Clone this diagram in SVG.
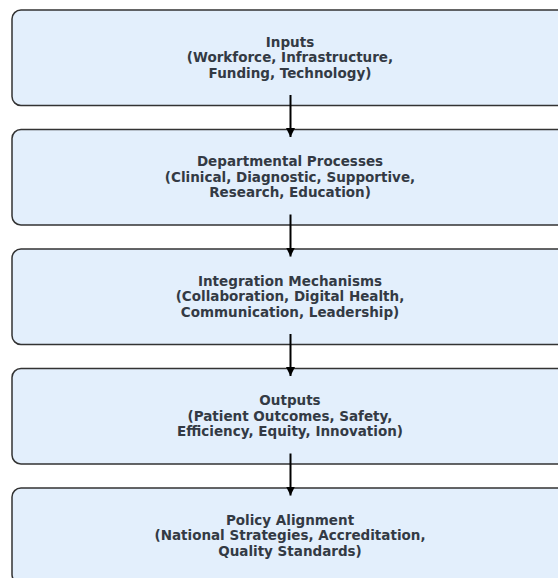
<svg xmlns="http://www.w3.org/2000/svg" width="558" height="578" viewBox="0 0 558 578">
<defs>
<style>
.box{fill:#e3effc;stroke:#333;stroke-width:1.5}
.t{font-family:"DejaVu Sans",sans-serif;font-weight:bold;font-size:13.5px;fill:#333a44;text-anchor:middle}
.c{stroke:#000;stroke-width:2;fill:none}
</style>
<marker id="ah" viewBox="0 0 10 10" refX="10" refY="5" markerWidth="4.5" markerHeight="4.5" orient="auto" markerUnits="strokeWidth"><path d="M0,0 L10,5 L0,10 z" fill="#000"/></marker>
</defs>
<rect width="558" height="578" fill="#fff"/>
<g id="n1"><rect class="box" x="12" y="10" width="558" height="95.5" rx="9"/>
<text class="t" x="290" y="46.5">Inputs</text><text class="t" x="290" y="62">(Workforce, Infrastructure,</text><text class="t" x="290" y="77.5">Funding, Technology)</text></g>
<g id="n2"><rect class="box" x="12" y="129.5" width="558" height="95.5" rx="9"/>
<text class="t" x="290" y="166">Departmental Processes</text><text class="t" x="290" y="181.5">(Clinical, Diagnostic, Supportive,</text><text class="t" x="290" y="197">Research, Education)</text></g>
<g id="n3"><rect class="box" x="12" y="249" width="558" height="95.5" rx="9"/>
<text class="t" x="290" y="285.5">Integration Mechanisms</text><text class="t" x="290" y="301">(Collaboration, Digital Health,</text><text class="t" x="290" y="316.5">Communication, Leadership)</text></g>
<g id="n4"><rect class="box" x="12" y="368.5" width="558" height="95.5" rx="9"/>
<text class="t" x="290" y="405">Outputs</text><text class="t" x="290" y="420.5">(Patient Outcomes, Safety,</text><text class="t" x="290" y="436">Efficiency, Equity, Innovation)</text></g>
<g id="n5"><rect class="box" x="12" y="488" width="558" height="95.5" rx="9"/>
<text class="t" x="290" y="524.5">Policy Alignment</text><text class="t" x="290" y="540">(National Strategies, Accreditation,</text><text class="t" x="290" y="555.5">Quality Standards)</text></g>
<g id="connectors">
<line class="c" x1="290.5" y1="95" x2="290.5" y2="137" marker-end="url(#ah)"/>
<line class="c" x1="290.5" y1="214.5" x2="290.5" y2="256.5" marker-end="url(#ah)"/>
<line class="c" x1="290.5" y1="334" x2="290.5" y2="376" marker-end="url(#ah)"/>
<line class="c" x1="290.5" y1="453.5" x2="290.5" y2="495.5" marker-end="url(#ah)"/>
</g>
</svg>
